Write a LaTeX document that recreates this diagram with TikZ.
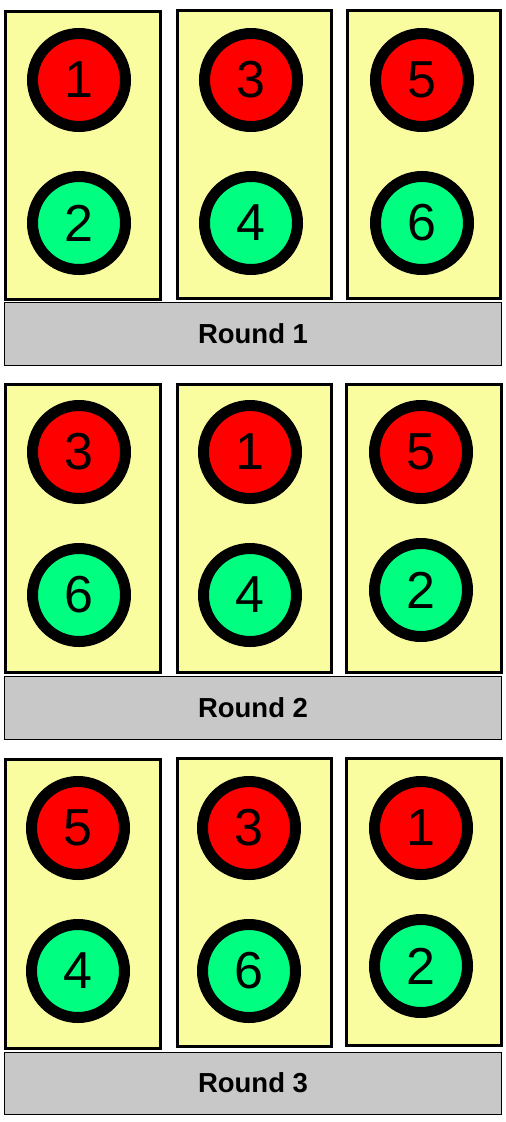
\documentclass[tikz,border=0pt]{standalone}
\usepackage{fontspec}
\setmainfont{Liberation Sans}
\usepackage{tikz}

\definecolor{chipred}{HTML}{FF0000}
\definecolor{chipgreen}{HTML}{00FF80}
\definecolor{tableyellow}{HTML}{FAFCA0}
\definecolor{bargray}{HTML}{C8C8C8}

\begin{document}
\begin{tikzpicture}[x=1pt, y=-1pt,
  tablenode/.style={rectangle, draw=black, fill=tableyellow, line width=3pt, inner sep=0pt, minimum width=155pt, minimum height=288pt},
  rednode/.style={circle, draw=black, fill=chipred, line width=11pt, inner sep=0pt, minimum size=93pt, font=\fontsize{52}{60}\selectfont},
  greennode/.style={circle, draw=black, fill=chipgreen, line width=11pt, inner sep=0pt, minimum size=93pt, font=\fontsize{52}{60}\selectfont},
  barnode/.style={rectangle, draw=black, fill=bargray, line width=0.8pt, inner sep=0pt, minimum width=497pt, font=\fontsize{27.5}{32}\selectfont\bfseries}]
\useasboundingbox (0,0) rectangle (506,1122);
% round 1
\node[tablenode] at (83.0, 155.0) (r1t1) {};
\node[tablenode, minimum width = 154pt] at (254.5, 154.5) (r1t2) {};
\node[tablenode, minimum width = 153pt] at (424.0, 154.5) (r1t3) {};
\node[rednode] at (79.0, 80.0) (r1c1) {1};
\node[greennode] at (79.0, 223.0) (r1c2) {2};
\node[rednode] at (251.0, 80.0) (r1c3) {3};
\node[greennode] at (251.0, 223.0) (r1c4) {4};
\node[rednode] at (422.0, 80.0) (r1c5) {5};
\node[greennode] at (422.0, 223.0) (r1c6) {6};
\node[barnode, minimum height = 63pt] at (253.0, 333.5) (r1bar) {Round 1};
% round 2
\node[tablenode] at (83.0, 528.0) (r2t1) {};
\node[tablenode, minimum width = 154pt] at (254.5, 528.0) (r2t2) {};
\node[tablenode, minimum width = 155pt] at (424.0, 528.0) (r2t3) {};
\node[rednode] at (79.0, 452.0) (r2c1) {3};
\node[greennode] at (79.0, 595.0) (r2c2) {6};
\node[rednode] at (250.0, 452.0) (r2c3) {1};
\node[greennode] at (250.0, 595.0) (r2c4) {4};
\node[rednode] at (421.0, 452.0) (r2c5) {5};
\node[greennode] at (421.0, 590.0) (r2c6) {2};
\node[barnode, minimum height = 63pt] at (253.0, 708.0) (r2bar) {Round 2};
% round 3
\node[tablenode, minimum height = 289pt] at (83.0, 904.0) (r3t1) {};
\node[tablenode, minimum width = 154pt] at (254.5, 902.5) (r3t2) {};
\node[tablenode, minimum width = 155pt, minimum height = 287pt] at (424.0, 902.0) (r3t3) {};
\node[rednode] at (78.0, 828.0) (r3c1) {5};
\node[greennode] at (78.0, 971.0) (r3c2) {4};
\node[rednode] at (249.0, 828.0) (r3c3) {3};
\node[greennode] at (249.0, 971.0) (r3c4) {6};
\node[rednode] at (421.0, 828.0) (r3c5) {1};
\node[greennode] at (421.0, 966.0) (r3c6) {2};
\node[barnode, minimum height = 62pt] at (253.0, 1083.0) (r3bar) {Round 3};
\end{tikzpicture}
\end{document}
